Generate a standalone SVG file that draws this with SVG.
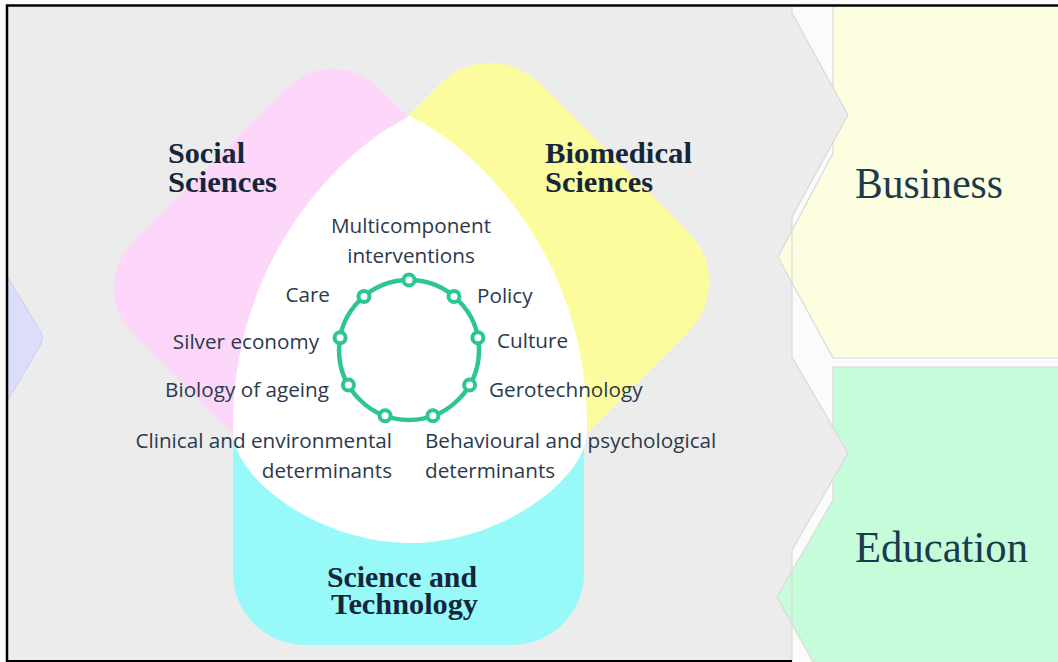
<svg xmlns="http://www.w3.org/2000/svg" width="1058" height="662" viewBox="0 0 1058 662">
  <defs>
    <style>
      .panel { fill: #ececec; }
      .edge { fill: none; stroke: #d9d9d9; stroke-width: 1.2; }
      .head { font-family: "Liberation Serif", "DejaVu Serif", serif; font-weight: bold; font-size: 30px; fill: #15263b; }
      .stage { font-family: "Liberation Serif", "DejaVu Serif", serif; font-size: 44px; fill: #1b3a4c; }
      .lbl { font-family: "Open Sans", "Liberation Sans", sans-serif; font-size: 20.7px; fill: #2a3a4d; }
      .ring { fill: none; stroke: #2dc596; stroke-width: 4.5; }
      .dot { fill: #ffffff; stroke: #2dc596; stroke-width: 4; }
    </style>
  </defs>

  <!-- page and main grey panel -->
  <rect x="0" y="0" width="1058" height="662" fill="#fbfbfb"/>
  <rect class="panel" x="8" y="7" width="784" height="655"/>

  <!-- previous stage arrow (left) -->
  <g id="prev-stage">
    <path d="M8,278 L41,332 Q44,338 41,344 L8,400 Z" fill="#dcdcfb" stroke="#cfcfe8" stroke-width="1"/>
  </g>

  <!-- Business stage -->
  <g id="business">
    <path d="M833,7 H1058 V358 H833 L778,257 L833,153 Z" fill="#fdfde0"/>
    <path class="edge" d="M833,7 V153 L778,257 L833,358 H1058"/>
    <text class="stage" x="855" y="198" textLength="148" lengthAdjust="spacingAndGlyphs">Business</text>
  </g>

  <!-- Education stage -->
  <g id="education">
    <path d="M833,367 H1058 V662 H813 L777,597 L833,500 Z" fill="#c7fcda"/>
    <path class="edge" d="M1058,367 H833 V500 L777,597 L813,662"/>
    <text class="stage" x="855" y="562" textLength="173" lengthAdjust="spacingAndGlyphs">Education</text>
  </g>

  <!-- grey panel arrow points -->
  <g id="panel-points">
    <path class="panel" d="M792,13 L848,115 L792,217 Z"/>
    <path class="panel" d="M792,357 L848,453 L792,550 Z"/>
    <path class="edge" d="M792,7 V13 L848,115 L792,217 V357 L848,453 L792,550 V662"/>
  </g>

  <!-- discipline shapes -->
  <g id="science-technology">
    <path d="M233,360 H584 V573 A72,72 0 0 1 512,645 H305 A72,72 0 0 1 233,573 Z" fill="#98f9f9"/>
  </g>
  <g id="social-sciences">
    <rect x="159" y="114" width="348" height="348" rx="65" fill="#fcd7f9" transform="rotate(45 333 288)"/>
  </g>
  <g id="biomedical-sciences">
    <rect x="314.5" y="106.5" width="351" height="351" rx="70" fill="#fcfb9e" transform="rotate(45 490 282)"/>
  </g>

  <!-- shared core -->
  <g id="core">
    <path d="M410,116 C480,150 590,260 587,433 C585,480 500,543 410,543 C320,543 235,480 233,433 C230,260 340,150 410,116 Z" fill="#ffffff"/>
  </g>

  <!-- discipline titles -->
  <text class="head">
    <tspan x="168" y="163" textLength="77" lengthAdjust="spacingAndGlyphs">Social</tspan>
    <tspan x="168" y="192" textLength="109" lengthAdjust="spacingAndGlyphs">Sciences</tspan>
  </text>
  <text class="head">
    <tspan x="545" y="163" textLength="147" lengthAdjust="spacingAndGlyphs">Biomedical</tspan>
    <tspan x="545" y="192" textLength="108" lengthAdjust="spacingAndGlyphs">Sciences</tspan>
  </text>
  <text class="head">
    <tspan x="327" y="587" textLength="150" lengthAdjust="spacingAndGlyphs">Science and</tspan>
    <tspan x="331" y="614" textLength="147" lengthAdjust="spacingAndGlyphs">Technology</tspan>
  </text>

  <!-- ring of research topics -->
  <g id="topic-ring">
    <circle class="ring" cx="409" cy="350" r="70"/>
    <circle class="dot" cx="409" cy="280" r="5.5"/>
    <circle class="dot" cx="454" cy="296.4" r="5.5"/>
    <circle class="dot" cx="477.9" cy="337.8" r="5.5"/>
    <circle class="dot" cx="469.6" cy="385" r="5.5"/>
    <circle class="dot" cx="432.9" cy="415.8" r="5.5"/>
    <circle class="dot" cx="385.1" cy="415.8" r="5.5"/>
    <circle class="dot" cx="348.4" cy="385" r="5.5"/>
    <circle class="dot" cx="340.1" cy="337.8" r="5.5"/>
    <circle class="dot" cx="364" cy="296.4" r="5.5"/>
  </g>

  <!-- topic labels -->
  <g id="topic-labels">
    <text class="lbl" x="411" y="233" text-anchor="middle">Multicomponent</text>
    <text class="lbl" x="411" y="263" text-anchor="middle">interventions</text>
    <text class="lbl" x="330" y="302" text-anchor="end">Care</text>
    <text class="lbl" x="477" y="303">Policy</text>
    <text class="lbl" x="319" y="349" text-anchor="end">Silver economy</text>
    <text class="lbl" x="497" y="348">Culture</text>
    <text class="lbl" x="329" y="397" text-anchor="end">Biology of ageing</text>
    <text class="lbl" x="489" y="397">Gerotechnology</text>
    <text class="lbl" x="392" y="448" text-anchor="end">Clinical and environmental</text>
    <text class="lbl" x="392" y="478" text-anchor="end">determinants</text>
    <text class="lbl" x="425" y="448">Behavioural and psychological</text>
    <text class="lbl" x="425" y="478">determinants</text>
  </g>

  <!-- frame -->
  <path d="M7,662 V5.5 H1058" fill="none" stroke="#000000" stroke-width="2.5"/>
  <path d="M7,661 H792" fill="none" stroke="#000000" stroke-width="2"/>
</svg>
